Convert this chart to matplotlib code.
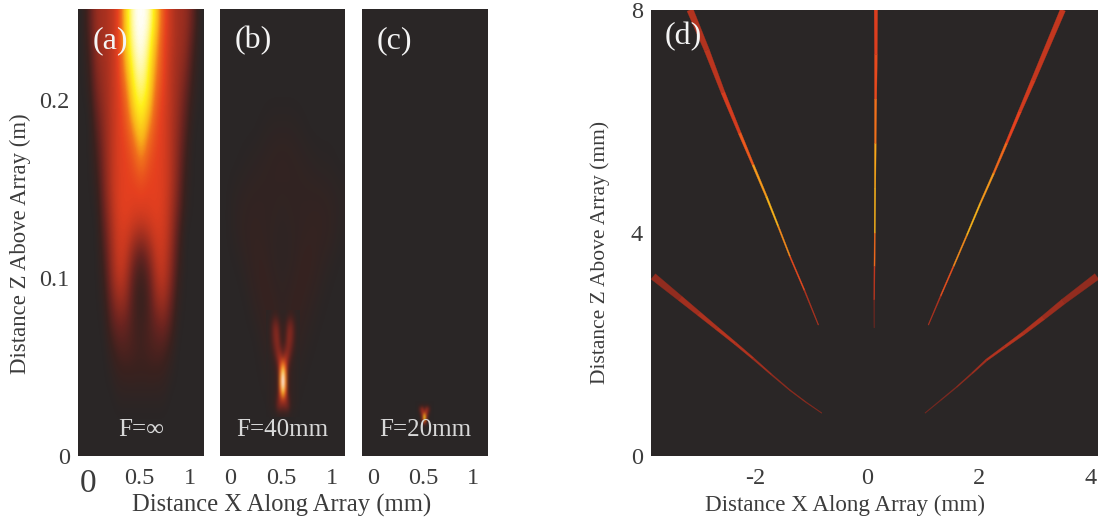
from matplotlib import pyplot as plt
from matplotlib.colors import LinearSegmentedColormap
from matplotlib.collections import PolyCollection
import numpy as np

W, H = 1102, 525
BG = '#2a2626'
TXT = '#3c3c3c'

plt.rcParams['font.family'] = ['Liberation Serif', 'DejaVu Serif']

# panel (a) intensity, top row z=0.25 down to z=0
a_field = [
	[0, .14, .33, .35, .40, .50, .80, .98, 1, .98, .80, .55, .42, .34, .32, .18, 0],
	[0, .10, .32, .35, .40, .50, .78, .95, 1, .93, .72, .52, .42, .34, .30, .12, 0],
	[0, .06, .28, .33, .40, .50, .72, .90, .97, .88, .66, .52, .40, .33, .26, .08, 0],
	[0, .03, .24, .32, .40, .48, .62, .85, .92, .84, .60, .50, .40, .32, .20, .05, 0],
	[0, 0, .18, .30, .40, .48, .56, .76, .86, .74, .55, .48, .40, .30, .16, .02, 0],
	[0, 0, .12, .28, .40, .48, .52, .62, .78, .62, .52, .48, .40, .28, .12, 0, 0],
	[0, 0, .08, .26, .40, .48, .50, .54, .64, .54, .50, .48, .40, .26, .08, 0, 0],
	[0, 0, .04, .24, .40, .48, .50, .50, .52, .50, .50, .48, .40, .24, .05, 0, 0],
	[0, 0, .01, .20, .38, .48, .50, .48, .48, .48, .50, .47, .38, .20, .03, 0, 0],
	[0, 0, 0, .15, .35, .46, .46, .40, .36, .40, .46, .46, .36, .14, 0, 0, 0],
	[0, 0, 0, .10, .32, .45, .42, .25, .14, .25, .42, .44, .32, .10, 0, 0, 0],
	[0, 0, 0, .06, .28, .42, .36, .14, .07, .14, .36, .42, .28, .06, 0, 0, 0],
	[0, 0, 0, .03, .20, .32, .28, .11, .06, .11, .28, .34, .20, .03, 0, 0, 0],
	[0, 0, 0, .01, .13, .20, .18, .11, .08, .12, .18, .22, .13, .01, 0, 0, 0],
	[0, 0, 0, 0, .06, .12, .13, .11, .09, .11, .13, .12, .06, 0, 0, 0, 0],
	[0, 0, 0, 0, .02, .06, .07, .07, .07, .07, .07, .06, .02, 0, 0, 0, 0],
	[0, 0, 0, 0, 0, .02, .02, .02, .02, .02, .02, .02, 0, 0, 0, 0, 0],
	[0] * 17,
	[0] * 17,
]

# panel (b) wide field, top row z=0.25 down to z=0
b_field = [
	[0] * 13,
	[0] * 13,
	[0] * 13,
	[0, 0, 0, 0, .01, .02, .02, .02, .01, 0, 0, 0, 0],
	[0, 0, .01, .02, .03, .04, .05, .04, .03, .02, .01, .01, 0],
	[0, .02, .03, .04, .04, .04, .03, .04, .04, .04, .04, .03, .02],
	[0, .02, .04, .05, .04, .03, .02, .03, .04, .05, .05, .04, .01],
	[0, 0, .02, .05, .06, .03, .02, .03, .06, .06, .03, .01, 0],
	[0, 0, 0, .03, .06, .06, .03, .06, .06, .03, .01, 0, 0],
	[0, 0, 0, 0, .03, .06, .04, .06, .03, .01, 0, 0, 0],
	[0, 0, 0, 0, .01, .03, .03, .03, .01, 0, 0, 0, 0],
	[0, 0, 0, 0, 0, .01, .01, .01, 0, 0, 0, 0, 0],
	[0] * 13,
]

# panel (b) focus, x = 0.517 +- 0.15 mm, z = 0.08 down to 0.024 m
b_focus = [
	[.02, .03, .05, .07, .05, .03, .03, .03, .05, .07, .05, .03, .02],
	[.02, .05, .11, .17, .14, .06, .04, .06, .14, .17, .11, .05, .02],
	[.02, .06, .16, .25, .22, .10, .06, .10, .22, .25, .16, .06, .02],
	[.02, .06, .16, .26, .26, .12, .07, .12, .26, .26, .16, .06, .02],
	[.02, .05, .14, .24, .27, .15, .08, .15, .27, .24, .14, .05, .02],
	[.02, .04, .10, .20, .27, .22, .14, .22, .27, .20, .10, .04, .02],
	[.01, .03, .06, .14, .28, .34, .26, .34, .28, .14, .06, .03, .01],
	[.01, .02, .04, .08, .20, .46, .62, .46, .20, .08, .04, .02, .01],
	[.01, .02, .03, .06, .14, .58, .88, .58, .14, .06, .03, .02, .01],
	[.01, .02, .03, .05, .12, .64, 1.0, .64, .12, .05, .03, .02, .01],
	[.01, .02, .03, .05, .12, .64, 1.0, .64, .12, .05, .03, .02, .01],
	[.01, .02, .03, .05, .12, .52, .82, .52, .12, .05, .03, .02, .01],
	[.01, .02, .03, .06, .18, .34, .42, .34, .18, .06, .03, .02, .01],
	[.01, .02, .03, .07, .20, .24, .22, .24, .20, .07, .03, .02, .01],
	[0, .01, .01, .02, .03, .04, .04, .04, .03, .02, .01, .01, 0],
]

# panel (c) focus, x = 0.51 +- 0.09 mm, z = 0.030 down to 0.015 m
c_focus = [
	[0, 0, 0, .01, .01, .01, 0, 0, 0],
	[0, .02, .06, .08, .05, .08, .06, .02, 0],
	[0, .04, .20, .32, .16, .32, .20, .04, 0],
	[0, .02, .14, .34, .36, .34, .14, .02, 0],
	[0, .01, .06, .30, .74, .30, .06, .01, 0],
	[0, 0, .03, .26, .80, .26, .03, 0, 0],
	[0, 0, .02, .14, .46, .14, .02, 0, 0],
	[0, 0, .01, .03, .08, .03, .01, 0, 0],
	[0, 0, 0, 0, .01, 0, 0, 0, 0],
]
c_field = [[0] * 3] * 3

# panel (d) beams, read along each beam from the top end to the tip
center_x = [.16, .16, .155, .15, .145, .14, .135, .13, .13]
center_z = [8, 7.2, 6.4, 5.6, 4.8, 4.0, 3.4, 2.8, 2.3]
center_level = [.48, .52, .62, .70, .72, .60, .42, .22, .09]
center_width = [3.4, 2.8, 2.2, 1.7, 1.4, 1.2, 1.1, 1.0, .6]

upleft_x = [-3.17, -2.87, -2.58, -2.28, -2.04, -1.80, -1.59, -1.38, -1.12, -.87]
upleft_z = [8, 7.28, 6.52, 5.79, 5.22, 4.65, 4.12, 3.58, 2.97, 2.35]
upleft_level = [.38, .40, .46, .56, .68, .72, .66, .52, .38, .26]
upleft_width = [6.5, 5.2, 4.0, 3.0, 2.2, 1.8, 1.5, 1.3, 1.2, .8]

upright_x = [3.51, 2.98, 2.74, 2.50, 2.27, 2.03, 1.79, 1.55, 1.32, 1.10]
upright_z = [8, 6.74, 6.18, 5.61, 5.07, 4.53, 3.96, 3.40, 2.87, 2.35]
upright_level = [.42, .45, .50, .60, .68, .72, .66, .54, .38, .26]
upright_width = [5.5, 4.2, 3.2, 2.4, 1.9, 1.6, 1.4, 1.3, 1.2, .8]

lowleft_x = [-3.83, -3.35, -3.02, -2.69, -2.36, -2.04, -1.71, -1.38, -1.10, -.81]
lowleft_z = [3.22, 2.83, 2.56, 2.29, 2.02, 1.75, 1.46, 1.18, .97, .77]
lowleft_level = [.30, .34, .37, .39, .38, .34, .30, .30, .28, .20]
lowleft_width = [7.0, 5.5, 4.4, 3.4, 2.6, 2.0, 1.3, 1.0, .9, .6]

lowright_x = [4.12, 3.52, 3.16, 2.80, 2.47, 2.14, 1.88, 1.61, 1.32, 1.04]
lowright_z = [3.22, 2.77, 2.48, 2.20, 1.96, 1.72, 1.48, 1.24, 1.00, .77]
lowright_level = [.30, .33, .37, .39, .38, .34, .30, .26, .24, .18]
lowright_width = [7.0, 5.5, 4.4, 3.4, 2.6, 2.0, 1.3, 1.0, .9, .6]

beams = [
	(center_x, center_z, center_level, center_width),
	(upleft_x, upleft_z, upleft_level, upleft_width),
	(upright_x, upright_z, upright_level, upright_width),
	(lowleft_x, lowleft_z, lowleft_level, lowleft_width),
	(lowright_x, lowright_z, lowright_level, lowright_width),
]

x_ticks = [0, 0.5, 1]
x_tick_labels = ['0', '0.5', '1']
z_ticks = [0, 0.1, 0.2]
z_tick_labels = ['0', '0.1', '0.2']
d_x_ticks = [-2, 0, 2, 4]
d_z_ticks = [0, 4, 8]
f_labels = ['F=\u221e', 'F=40mm', 'F=20mm']
panel_labels = ['(a)', '(b)', '(c)']

cmap = LinearSegmentedColormap.from_list('beam', [
	(0, BG), (.08, '#3c211e'), (.2, '#6b2420'), (.35, '#a5301f'), (.5, '#e5401f'),
	(.62, '#f0701c'), (.72, '#f9b21a'), (.85, '#fff01c'), (1, '#ffffff')])


def panel(left, right, top=9, bottom=456):
	ax = fig.add_axes([left / W, 1 - bottom / H, (right - left) / W, (bottom - top) / H])
	ax.set_facecolor(BG)
	for s in ax.spines.values():
		s.set_visible(False)
	ax.tick_params(length=0, labelsize=17.5, colors=TXT, pad=9)
	return ax


def show(ax, field, extent):
	ax.imshow(np.array(field, dtype=float), cmap=cmap, vmin=0, vmax=1, extent=extent,
		aspect='auto', interpolation='bicubic', origin='upper')


def beam_quads(bx, bz, width, px_per_unit=55.8):
	# tapered strip, one quad per stretch of beam
	pts = np.column_stack([bx, bz])
	d = np.diff(pts, axis=0)
	n = np.column_stack([-d[:, 1], d[:, 0]]) / np.hypot(d[:, 0], d[:, 1])[:, None]
	n = np.vstack([n, n[-1]])
	half = n * np.array(width)[:, None] / 2 / px_per_unit
	return [[pts[i] + half[i], pts[i + 1] + half[i + 1], pts[i + 1] - half[i + 1], pts[i] - half[i]]
		for i in range(len(pts) - 1)]


fig = plt.figure(figsize=(W / 100, H / 100), dpi=100)

xlims = [(-0.098, 1.137), (-0.098, 1.127), (-0.108, 1.147)]
axes = [panel(78, 204), panel(220, 345), panel(362, 488)]
fields = [a_field, b_field, c_field]
for ax, field, xlim, flab, plab in zip(axes, fields, xlims, f_labels, panel_labels):
	show(ax, field, [xlim[0], xlim[1], 0, 0.251])
	ax.set_xlim(xlim)
	ax.set_ylim(0, 0.251)
	ax.set_xticks(x_ticks, x_tick_labels)
	ax.set_yticks([])
	ax.text(0.5, 0.058, flab, transform=ax.transAxes, ha='center', va='center', color='#d8d8d8', fontsize=18)
	ax.text(0.12, 0.93, plab, transform=ax.transAxes, ha='left', va='center', color='#f4f4f4', fontsize=23)

show(axes[1], b_focus, [.517 - .1625, .517 + .1625, .022, .082])
show(axes[2], c_focus, [.51 - .09, .51 + .09, .0145, .0305])
for ax, xlim in zip(axes[1:], xlims[1:]):
	ax.set_xlim(xlim)
	ax.set_ylim(0, 0.251)

axes[0].set_yticks(z_ticks, z_tick_labels)
axes[0].tick_params(axis='y', pad=6)
axes[0].get_xticklabels()[0].set_fontsize(24)
fig.text(20 / W, 1 - 244 / H, 'Distance Z Above Array (m)', rotation=90, ha='center', va='center', fontsize=16.4, color=TXT)
fig.text(282 / W, 1 - 505 / H, 'Distance X Along Array (mm)', ha='center', va='center', fontsize=17.7, color=TXT)

# panel (d)
ax = panel(651, 1098, top=10)
ax.set_xlim(-3.87, 4.14)
ax.set_ylim(0, 8)
for bx, bz, level, width in beams:
	strip = PolyCollection(beam_quads(bx, bz, width), cmap=cmap, norm=plt.Normalize(0, 1), edgecolors='face', linewidths=.2)
	strip.set_array(np.array(level[:-1]))
	ax.add_collection(strip)
ax.set_xticks(d_x_ticks, [str(v) for v in d_x_ticks])
ax.set_yticks(d_z_ticks, [str(v) for v in d_z_ticks])
ax.tick_params(axis='y', pad=6)
ax.text(0.03, 0.94, '(d)', transform=ax.transAxes, ha='left', va='center', color='#f4f4f4', fontsize=23)
fig.text(600 / W, 1 - 252 / H, 'Distance Z Above Array (mm)', rotation=90, ha='center', va='center', fontsize=15.5, color=TXT)
fig.text(845 / W, 1 - 505 / H, 'Distance X Along Array (mm)', ha='center', va='center', fontsize=16.6, color=TXT)

fig.savefig('out.png', dpi=100)
